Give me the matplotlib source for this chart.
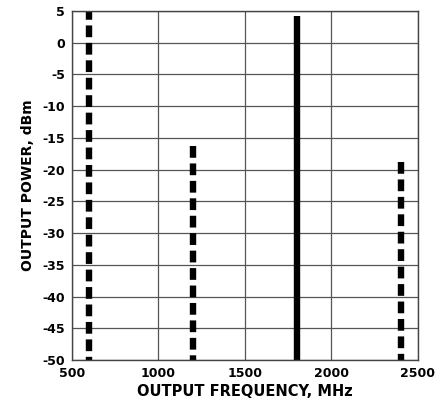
import matplotlib
matplotlib.use('Agg')
import matplotlib.pyplot as plt

plt.rcParams['font.family'] = ['DejaVu Sans']
plt.rcParams['font.weight'] = 'bold'
plt.rcParams['axes.unicode_minus'] = False

freqs = [600, 1200, 1800, 2400]
levels = [5.5, -16.3, 4.2, -18.8]
dashed = [True, True, False, True]
floor = -50

x_ticks = [500, 1000, 1500, 2000, 2500]
y_ticks = list(range(-50, 10, 5))

fig = plt.figure(figsize=(4.44, 4.00), dpi=100)
ax = fig.add_axes((0.162, 0.1, 0.779, 0.8725))

# draw top -> bottom so the dash pattern starts at the peak
for f, lvl, d in zip(freqs, levels, dashed):
    if d:
        ax.plot([f, f], [lvl, floor], color='black', lw=4.6,
                dashes=(1.84, 0.89), solid_capstyle='butt', dash_capstyle='butt')
    else:
        ax.plot([f, f], [lvl, floor], color='black', lw=4.6, solid_capstyle='butt')

ax.set_xlim(500, 2500)
ax.set_ylim(-50, 5)
ax.set_xticks(x_ticks)
ax.set_yticks(y_ticks)
ax.grid(True, color='#555555', lw=0.9)
ax.set_axisbelow(True)
ax.tick_params(length=0, labelsize=9, pad=5)
for s in ax.spines.values():
    s.set_color('#444444')
    s.set_linewidth(1.0)

ax.set_xlabel('OUTPUT FREQUENCY, MHz', fontsize=10.5, fontweight='bold', labelpad=3)
ax.set_ylabel('OUTPUT POWER, dBm', fontsize=10, fontweight='bold', labelpad=5)

fig.savefig('out.png', dpi=100)
